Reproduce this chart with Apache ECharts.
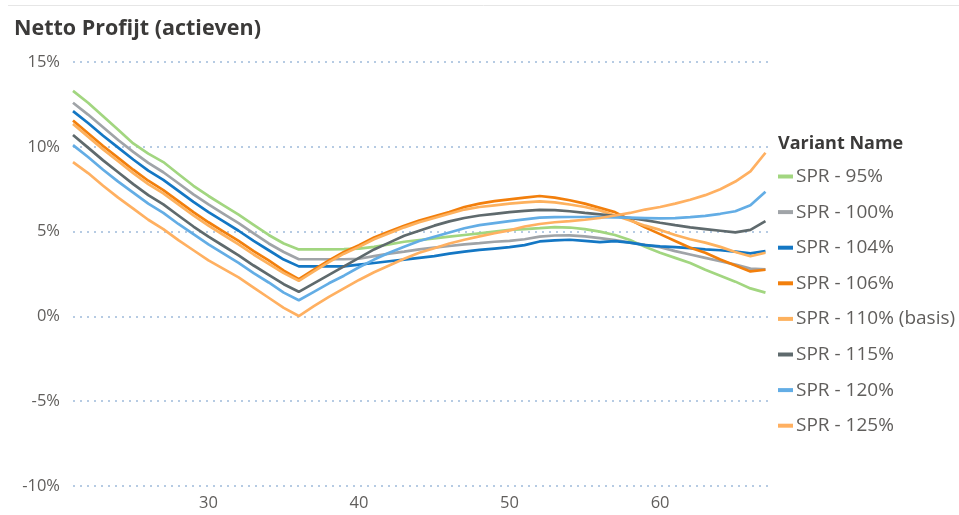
<!DOCTYPE html>
<html>
<head>
<meta charset="utf-8">
<title>Netto Profijt (actieven)</title>
<script src="https://cdn.jsdelivr.net/npm/echarts@6/dist/echarts.min.js"></script>
<style>
    html, body { margin: 0; padding: 0; background: #fff; }
    #main { width: 959px; height: 515px; }
</style>
</head>
<body>
<div id="main"></div>
<script>
// leeftijden (x-as)
var ages = [21, 22, 23, 24, 25, 26, 27, 28, 29, 30, 31, 32, 33, 34, 35, 36, 37, 38, 39, 40,
    41, 42, 43, 44, 45, 46, 47, 48, 49, 50, 51, 52, 53, 54, 55, 56, 57, 58, 59, 60,
    61, 62, 63, 64, 65, 66, 67];

var variantNames = ['SPR - 95%', 'SPR - 100%', 'SPR - 104%', 'SPR - 106%',
    'SPR - 110% (basis)', 'SPR - 115%', 'SPR - 120%', 'SPR - 125%'];

var yTicks = [-10, -5, 0, 5, 10, 15];

// netto profijt in %, per variant
var spr95 = [13.3, 12.6, 11.8, 11.0, 10.2, 9.6, 9.1, 8.4, 7.7, 7.1, 6.55, 6.0, 5.4, 4.8, 4.3, 3.95, 3.95, 3.95, 3.97, 4.0,
    4.1, 4.25, 4.4, 4.5, 4.6, 4.7, 4.8, 4.9, 5.0, 5.1, 5.15, 5.2, 5.26, 5.24, 5.15, 5.0, 4.8, 4.5, 4.1, 3.75,
    3.45, 3.15, 2.75, 2.4, 2.05, 1.65, 1.4];
var spr100 = [12.6, 11.9, 11.15, 10.4, 9.7, 9.05, 8.5, 7.85, 7.2, 6.6, 6.05, 5.5, 4.9, 4.3, 3.8, 3.37, 3.37, 3.37, 3.37, 3.4,
    3.55, 3.7, 3.82, 3.95, 4.05, 4.15, 4.25, 4.32, 4.4, 4.45, 4.55, 4.7, 4.77, 4.78, 4.72, 4.62, 4.5, 4.35, 4.22, 4.08,
    3.85, 3.65, 3.45, 3.25, 3.05, 2.82, 2.78];
var spr104 = [12.1, 11.4, 10.65, 9.95, 9.25, 8.6, 8.05, 7.4, 6.75, 6.15, 5.6, 5.05, 4.45, 3.9, 3.35, 2.95, 2.95, 2.95, 2.95, 3.05,
    3.15, 3.25, 3.35, 3.45, 3.55, 3.7, 3.82, 3.92, 4.0, 4.08, 4.2, 4.42, 4.48, 4.52, 4.45, 4.38, 4.44, 4.35, 4.2, 4.13,
    4.08, 4.02, 3.95, 3.9, 3.82, 3.72, 3.85];
var spr106 = [11.55, 10.8, 10.05, 9.35, 8.65, 8.0, 7.45, 6.8, 6.15, 5.55, 5.0, 4.45, 3.85, 3.3, 2.7, 2.2, 2.75, 3.3, 3.8, 4.2,
    4.65, 5.0, 5.35, 5.65, 5.9, 6.15, 6.45, 6.65, 6.8, 6.9, 7.0, 7.1, 7.0, 6.85, 6.65, 6.4, 6.15, 5.7, 5.25, 4.85,
    4.45, 4.05, 3.75, 3.35, 3.0, 2.65, 2.75];
var spr110 = [11.35, 10.6, 9.85, 9.15, 8.45, 7.8, 7.25, 6.6, 5.95, 5.35, 4.8, 4.25, 3.65, 3.1, 2.55, 2.1, 2.65, 3.2, 3.7, 4.1,
    4.55, 4.9, 5.25, 5.55, 5.8, 6.05, 6.3, 6.45, 6.55, 6.65, 6.72, 6.78, 6.72, 6.6, 6.45, 6.25, 5.95, 5.65, 5.35, 5.1,
    4.8, 4.55, 4.35, 4.1, 3.8, 3.55, 3.75];
var spr115 = [10.7, 9.95, 9.2, 8.5, 7.8, 7.15, 6.6, 5.95, 5.3, 4.7, 4.15, 3.6, 3.0, 2.45, 1.9, 1.45, 1.95, 2.45, 2.95, 3.45,
    3.95, 4.35, 4.75, 5.05, 5.35, 5.6, 5.8, 5.95, 6.05, 6.15, 6.22, 6.28, 6.27, 6.2, 6.1, 6.02, 5.92, 5.8, 5.68, 5.52,
    5.38, 5.25, 5.15, 5.05, 4.95, 5.1, 5.62];
var spr120 = [10.1, 9.4, 8.65, 7.95, 7.3, 6.65, 6.1, 5.45, 4.85, 4.25, 3.7, 3.15, 2.55, 2.0, 1.4, 0.95, 1.45, 1.95, 2.4, 2.9,
    3.35, 3.75, 4.1, 4.45, 4.7, 4.95, 5.2, 5.38, 5.5, 5.62, 5.72, 5.82, 5.85, 5.86, 5.86, 5.85, 5.84, 5.82, 5.8, 5.78,
    5.8, 5.85, 5.93, 6.05, 6.2, 6.55, 7.35];
var spr125 = [9.1, 8.45, 7.7, 7.0, 6.35, 5.7, 5.15, 4.5, 3.9, 3.3, 2.8, 2.3, 1.7, 1.1, 0.5, 0.02, 0.6, 1.15, 1.65, 2.15,
    2.6, 3.0, 3.4, 3.75, 4.02, 4.3, 4.52, 4.72, 4.9, 5.07, 5.3, 5.45, 5.55, 5.62, 5.7, 5.8, 5.95, 6.1, 6.3, 6.45,
    6.65, 6.88, 7.15, 7.5, 7.95, 8.55, 9.65];

var allValues = [spr95, spr100, spr104, spr106, spr110, spr115, spr120, spr125];
var colors = ['#a2d680', '#a0a4a8', '#1477c4', '#f27f0c', '#fdb15e', '#5f6a6d', '#63ade5', '#ffb061'];

var fontName = 'Open Sans';
var labelColor = '#605e5c';

// series opbouwen
var series = [];
for (var i = 0; i < variantNames.length; i++) {
    var points = [];
    for (var j = 0; j < ages.length; j++) {
        points.push([ages[j], allValues[i][j]]);
    }
    series.push({
        name: variantNames[i],
        type: 'line',
        data: points,
        showSymbol: false,
        symbol: 'none',
        smooth: false,
        lineStyle: { width: 2.7, color: colors[i] },
        itemStyle: { color: colors[i] }
    });
}

var myChart = echarts.init(document.getElementById('main'));

myChart.setOption({
    animation: false,
    color: colors,
    textStyle: { fontFamily: fontName },
    title: [
        {
            text: 'Netto Profijt (actieven)',
            left: 14,
            top: 18,
            padding: 0,
            textStyle: { fontFamily: fontName, fontSize: 21.5, fontWeight: 'bold', color: '#3b3a39' }
        },
        {
            text: 'Variant Name',
            left: 778,
            top: 135,
            padding: 0,
            textStyle: { fontFamily: fontName, fontSize: 18, fontWeight: 'bold', color: '#3b3a39' }
        }
    ],
    graphic: [
        {
            type: 'line',
            shape: { x1: 8, y1: 5.5, x2: 959, y2: 5.5 },
            style: { stroke: '#e6e6e6', lineWidth: 1 }
        }
    ],
    legend: {
        orient: 'vertical',
        left: 778,
        top: 166.5,
        padding: 0,
        icon: 'rect',
        itemWidth: 15,
        itemHeight: 4,
        itemGap: 15.6,
        data: variantNames,
        textStyle: { fontFamily: fontName, fontSize: 19, color: labelColor, lineHeight: 20, padding: [0, 0, 0, -2] }
    },
    grid: {
        left: 73,
        right: 186,
        top: 62,
        bottom: 29
    },
    xAxis: {
        type: 'value',
        min: 21,
        max: 67.5,
        axisLine: { show: false },
        axisTick: { show: false },
        splitLine: { show: false },
        axisLabel: {
            margin: 9,
            fontSize: 16.5,
            color: labelColor,
            formatter: function (v) {
                return v % 10 === 0 ? String(v) : '';
            }
        }
    },
    yAxis: {
        type: 'value',
        min: yTicks[0],
        max: yTicks[yTicks.length - 1],
        interval: 5,
        axisLine: { show: false },
        axisTick: { show: false },
        axisLabel: {
            margin: 13,
            fontSize: 16.5,
            color: labelColor,
            formatter: '{value}%'
        },
        splitLine: {
            lineStyle: { color: '#b6cbe3', width: 2, type: [2, 5] }
        }
    },
    series: series
});
</script>
</body>
</html>
